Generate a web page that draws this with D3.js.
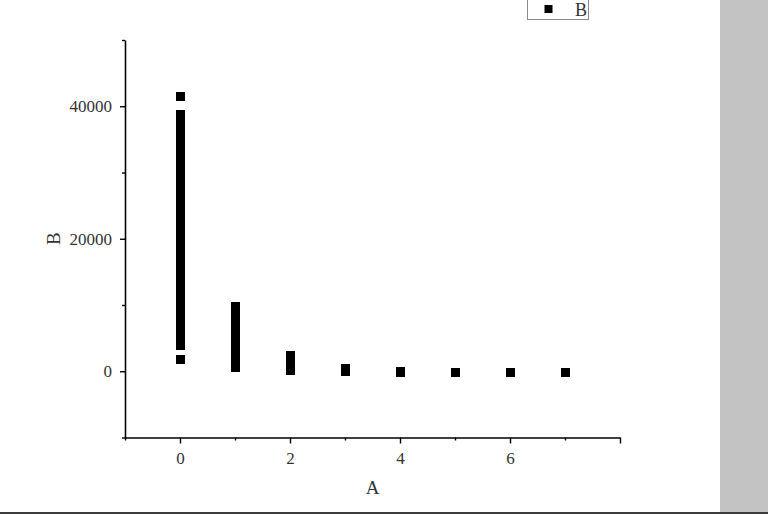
<!DOCTYPE html>
<html><head><meta charset="utf-8">
<script src="https://cdn.jsdelivr.net/npm/d3@7"></script>
<style>body{margin:0;background:#fff;}svg{display:block;}</style>
</head><body>
<svg id="c" width="768" height="514"></svg>
<script>
// Data: each x value (A) has a group of B values
const xGroups = [0, 1, 2, 3, 4, 5, 6, 7];
const bAt0 = [41400, 38800, 37600, 36500, 35200, 34100, 33000, 31800, 30700, 29500, 28400,
  27200, 26100, 25000, 23800, 22700, 21500, 20400, 19300, 18100, 17000, 15900, 14800,
  13600, 12500, 11400, 10300, 9200, 8100, 7000, 6000, 4900, 3850, 1740];
const bAt1 = [9780, 8700, 7600, 6500, 5400, 4300, 3300, 2300, 1400, 570];
const bAt2 = [2380, 1500, 700, 120];
const bAt3 = [440, -75];
const bAt4 = [-30, -180];
const bAt5 = [-170];
const bAt6 = [-170];
const bAt7 = [-170];
const seriesB = [bAt0, bAt1, bAt2, bAt3, bAt4, bAt5, bAt6, bAt7];
const xMajorTicks = [0, 2, 4, 6, 8];
const xMinorTicks = [-1, 1, 3, 5, 7];
const xTickLabels = ["0", "2", "4", "6", ""];
const yMajorTicks = [0, 20000, 40000];
const yMinorTicks = [-10000, 10000, 30000, 50000];
const yTickLabels = ["0", "20000", "40000"];
const xTitle = "A", yTitle = "B", legendLabel = "B";

const points = [];
xGroups.forEach((a, i) => seriesB[i].forEach(b => points.push({a, b})));

const svg = d3.select("#c");
const font = "'Liberation Serif', 'DejaVu Serif', serif";
const x = d3.scaleLinear().domain([-1, 8]).range([125, 620]);
const y = d3.scaleLinear().domain([-10000, 50000]).range([437.5, 40]);

// right grey panel and bottom border
svg.append("rect").attr("x", 720).attr("y", 0).attr("width", 48).attr("height", 514).attr("fill", "#c3c3c3");
svg.append("rect").attr("x", 0).attr("y", 512).attr("width", 768).attr("height", 2).attr("fill", "#3c3c3c");

// X axis
const gx = svg.append("g").attr("transform", `translate(0,${y(-10000)})`);
gx.call(d3.axisBottom(x).tickValues(xMajorTicks).tickSize(6).tickSizeOuter(0)
  .tickFormat((d, i) => xTickLabels[i]));
gx.append("g").call(d3.axisBottom(x).tickValues(xMinorTicks).tickSize(3).tickSizeOuter(0).tickFormat(""))
  .select(".domain").remove();
gx.selectAll("path.domain").attr("stroke-width", 1.6).attr("stroke", "#000");
gx.selectAll("line").attr("stroke-width", 1.4).attr("stroke", "#000");
gx.selectAll("text").attr("font-family", font).attr("font-size", 17).attr("fill", "#333").attr("dy", "1.05em");

// Y axis
const gy = svg.append("g").attr("transform", `translate(${x(-1)},0)`);
gy.call(d3.axisLeft(y).tickValues(yMajorTicks).tickSize(5).tickSizeOuter(0)
  .tickFormat((d, i) => yTickLabels[i]));
gy.append("g").call(d3.axisLeft(y).tickValues(yMinorTicks).tickSize(3).tickSizeOuter(0).tickFormat(""))
  .select(".domain").remove();
gy.selectAll("path.domain").attr("stroke-width", 1.6).attr("stroke", "#000");
gy.selectAll("line").attr("stroke-width", 1.4).attr("stroke", "#000");
gy.selectAll("text").attr("font-family", font).attr("font-size", 17).attr("fill", "#333").attr("x", -13);

// Points (square markers)
const ms = 9;
svg.append("g").attr("shape-rendering", "crispEdges").selectAll("rect").data(points).join("rect")
  .attr("x", d => x(d.a) - ms / 2).attr("y", d => y(d.b) - ms / 2)
  .attr("width", ms).attr("height", ms).attr("fill", "#000");

// Axis titles
svg.append("text").attr("x", (x(-1) + x(8)) / 2).attr("y", 494)
  .attr("text-anchor", "middle").attr("font-family", font).attr("font-size", 19).attr("fill", "#333").text(xTitle);
svg.append("text").attr("transform", `translate(60,${(y(-10000) + y(50000)) / 2}) rotate(-90)`)
  .attr("text-anchor", "middle").attr("font-family", font).attr("font-size", 19).attr("fill", "#333").text(yTitle);

// Legend
svg.append("rect").attr("x", 527.5).attr("y", -5).attr("width", 61).attr("height", 24.5)
  .attr("fill", "#fff").attr("stroke", "#8a8a8a").attr("stroke-width", 1);
svg.append("rect").attr("x", 544.5).attr("y", 5).attr("width", 8).attr("height", 8).attr("fill", "#000");
svg.append("text").attr("x", 575).attr("y", 16).attr("font-family", font).attr("font-size", 18)
  .attr("fill", "#333").text(legendLabel);
</script>
</body></html>
